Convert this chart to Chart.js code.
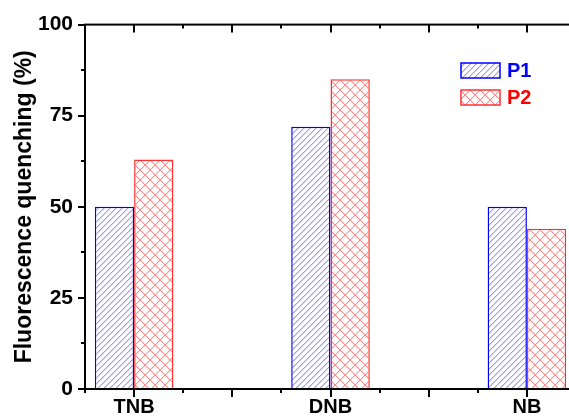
<!DOCTYPE html>
<html>
<head>
<meta charset="utf-8">
<script src="https://cdn.jsdelivr.net/npm/chart.js@4.4.0/dist/chart.umd.min.js"></script>
<style>
  html, body { margin: 0; padding: 0; overflow: hidden; background: #fff; }
</style>
</head>
<body>
<canvas id="chart" width="600" height="416"></canvas>
<script>
const muestras = ["TNB", "DNB", "NB"];
const posiciones = [1, 2, 3];
const valoresP1 = [50, 72, 50];
const valoresP2 = [63, 85, 44];
const ticksY = [0, 25, 50, 75, 100];

const ctx = document.getElementById("chart").getContext("2d");

// relleno rayado para las barras ("/" o cuadriculado en diagonal):
// cada raya es un pixel fuerte con uno suave al lado
function rayado(fuerte, suave, paso, cruzado) {
  const c = document.createElement("canvas");
  c.width = c.height = paso;
  const g = c.getContext("2d");
  g.fillStyle = "#ffffff";
  g.fillRect(0, 0, paso, paso);
  const punto = (i, j, color) => { g.fillStyle = color; g.fillRect(i, j, 1, 1); };
  for (let i = 0; i < paso; i++) {
    punto((i + 1) % paso, paso - 1 - i, suave);
    if (cruzado) punto((i + 1) % paso, i, suave);
  }
  for (let i = 0; i < paso; i++) {
    punto(i, paso - 1 - i, fuerte);
    if (cruzado) punto(i, i, fuerte);
  }
  return ctx.createPattern(c, "repeat");
}

const series = [
  { label: "P1", data: valoresP1, borde: "#0000ff", texto: "#0000ff", relleno: rayado("rgb(150,150,255)", "rgb(215,215,255)", 6, false) },
  { label: "P2", data: valoresP2, borde: "#ff3030", texto: "#ff0000", relleno: rayado("rgb(255,140,140)", "rgb(255,215,215)", 10, true) }
];

const familia = "'Liberation Sans', Arial, sans-serif";

// marco completo, marcas de los ejes y leyenda
const marco = {
  id: "marco",
  afterDatasetsDraw(chart) {
    const { chartArea: a, scales: { x, y } } = chart;
    const c = chart.ctx;
    c.save();
    c.strokeStyle = "#000";
    c.lineWidth = 2;
    c.strokeRect(a.left, a.top, a.right - a.left, a.bottom - a.top);
    c.beginPath();
    for (let v = 0; v <= 100; v += 12.5) {
      const py = Math.round(y.getPixelForValue(v));
      const largo = v % 25 === 0 ? 7 : 4;
      c.moveTo(a.left, py); c.lineTo(a.left - largo, py);
      c.moveTo(a.right, py); c.lineTo(a.right - largo, py);
    }
    for (let v = 0.75; v <= 3.25; v += 0.25) {
      const px = Math.round(x.getPixelForValue(v));
      const largo = v % 0.5 === 0 ? 8 : 4;
      c.moveTo(px, a.bottom); c.lineTo(px, a.bottom + largo);
      c.moveTo(px, a.top); c.lineTo(px, a.top + largo);
    }
    c.stroke();

    // leyenda
    c.font = "bold 20px " + familia;
    c.textBaseline = "middle";
    series.forEach((s, i) => {
      const top = 63 + i * 27;
      c.fillStyle = s.relleno;
      c.fillRect(461, top, 39, 15);
      c.strokeStyle = s.borde;
      c.lineWidth = 1.5;
      c.strokeRect(461, top, 39, 15);
      c.fillStyle = s.texto;
      c.fillText(s.label, 507, top + 8);
    });
    c.restore();
  }
};

new Chart(ctx, {
  type: "bar",
  data: {
    datasets: series.map(s => ({
      label: s.label,
      data: s.data.map((v, i) => ({ x: posiciones[i], y: v })),
      backgroundColor: s.relleno,
      borderColor: s.borde,
      borderWidth: 1.5,
      // la regla toma la distancia entre marcas (0.25), cada barra ocupa 0.2
      categoryPercentage: 1.6,
      barPercentage: 1
    }))
  },
  options: {
    responsive: false,
    animation: false,
    layout: { padding: { top: 23, right: 24, left: 0, bottom: 0 } },
    plugins: {
      legend: { display: false },
      tooltip: { enabled: false }
    },
    scales: {
      x: {
        type: "linear",
        offset: false,
        min: 0.75,
        max: 3.25,
        grid: { display: false, drawTicks: false, offset: false },
        border: { display: false },
        ticks: {
          stepSize: 0.25,
          autoSkip: false,
          maxRotation: 0,
          padding: 6,
          color: "#000",
          font: { family: familia, weight: "bold", size: 20 },
          callback: v => Number.isInteger(v) ? muestras[v - 1] : ""
        },
        afterFit: s => { s.height = 27; }
      },
      y: {
        min: 0,
        max: 100,
        grid: { display: false, drawTicks: false },
        border: { display: false },
        afterBuildTicks: s => { s.ticks = ticksY.map(v => ({ value: v })); },
        ticks: { padding: 12, color: "#000", font: { family: familia, weight: "bold", size: 21 } },
        title: {
          display: true,
          text: "Fluorescence quenching (%)",
          color: "#000",
          font: { family: familia, weight: "bold", size: 23 },
          padding: { top: 11, bottom: 0 }
        },
        afterFit: s => { s.width = 85; }
      }
    }
  },
  plugins: [marco]
});
</script>
</body>
</html>
